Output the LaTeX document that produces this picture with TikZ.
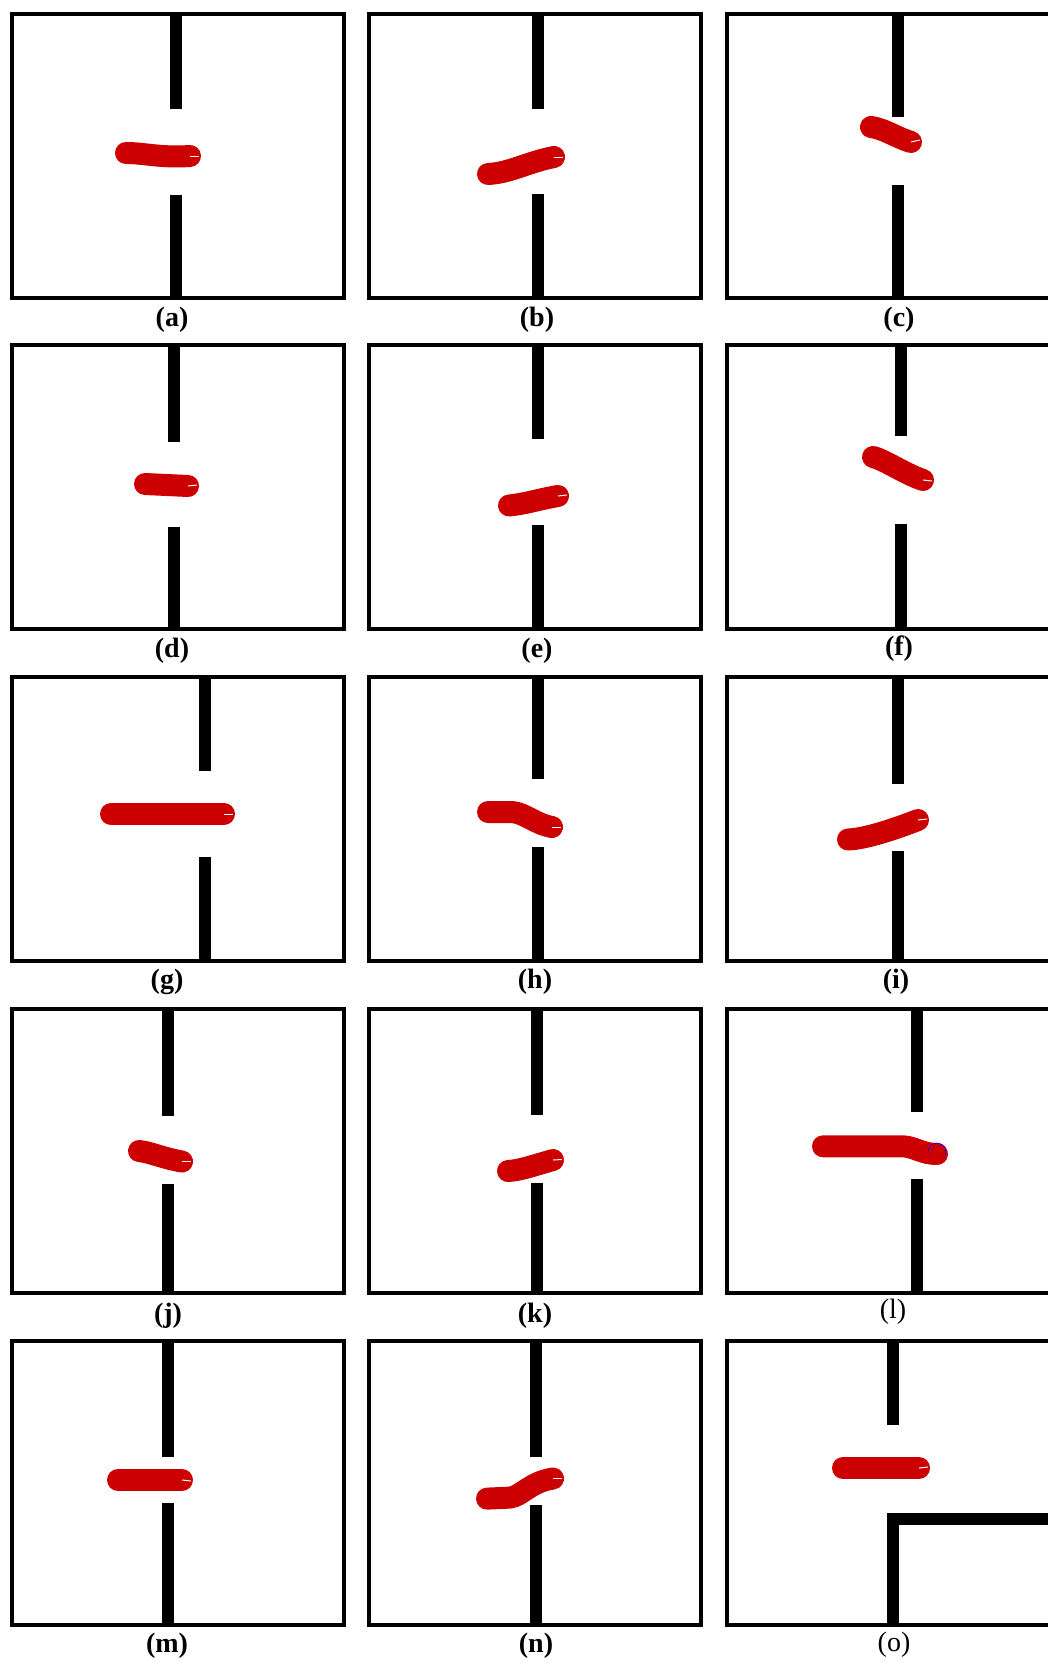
\documentclass[tikz,border=0pt]{standalone}
\usepackage{fontspec}
\setmainfont{Liberation Serif}
\definecolor{robotred}{RGB}{204,0,0}
\tikzset{
  frame/.style={draw=black, line width=4pt},
  wall/.style={draw=black, line width=12pt},
  robot/.style={draw=robotred, line width=22pt, line cap=round, line join=round},
  heading/.style={draw=white, line width=1pt},
  sublabel/.style={font=\fontsize{28}{30}\selectfont\bfseries},
  sublabelthin/.style={font=\fontsize{28}{30}\selectfont},
}
\begin{document}
\begin{tikzpicture}[x=1pt,y=-1pt]
\useasboundingbox (0,0) rectangle (1048,1662);
\clip (0,0) rectangle (1048,1662);
% frames
\foreach \y in {13.7,345,677,1009,1341} {
  \draw[frame] (11.5,\y) rectangle (343.5,\y+284);
  \draw[frame] (369.3,\y) rectangle (701.3,\y+284);
  \draw[frame] (727,\y) rectangle (1070,\y+284);
}
% row 1
\draw[wall] (176,13.7) -- (176,108.7);
\draw[wall] (176,195) -- (176,297.7);
\draw[robot] (126,153) .. controls (145,153) and (160,158) .. (190,156);
\draw[heading] (190,156) -- ++(9,0);
\node[sublabel] (cap-a) at (172,319.5) {(a)};

\draw[wall] (538,13.7) -- (538,108.6);
\draw[wall] (538,194.4) -- (538,297.7);
\draw[robot] (488,174) .. controls (510,173) and (528,162) .. (554,157);
\draw[heading] (554,157) -- ++(9,0);
\node[sublabel] (cap-b) at (537,319.5) {(b)};

\draw[wall] (898,13.7) -- (898,117.3);
\draw[wall] (898,185.3) -- (898,297.7);
\draw[robot] (871,127) .. controls (885,129) and (895,137) .. (911,142);
\draw[heading] (911,142) -- ++(9,-2);
\node[sublabel] (cap-c) at (899,319.5) {(c)};

% row 2
\draw[wall] (174,345) -- (174,441.7);
\draw[wall] (174,527.3) -- (174,629);
\draw[robot] (145,484) -- (188,486);
\draw[heading] (188,486) -- ++(9,-1);
\node[sublabel] (cap-d) at (172,651) {(d)};

\draw[wall] (538,345) -- (538,439);
\draw[wall] (538,524.8) -- (538,629);
\draw[robot] (509,505.5) .. controls (525,504) and (540,499) .. (558,496);
\draw[heading] (558,496) -- ++(9,-1);
\node[sublabel] (cap-e) at (537,651) {(e)};

\draw[wall] (901,345) -- (901,436);
\draw[wall] (901,524) -- (901,629);
\draw[robot] (873,457) .. controls (885,460) and (905,474) .. (923,480);
\draw[heading] (923,480) -- ++(9,1);
\node[sublabel] (cap-f) at (899,649) {(f)};

% row 3
\draw[wall] (205,677) -- (205,771);
\draw[wall] (205,856.7) -- (205,961);
\draw[robot] (111,814) -- (224,814);
\draw[heading] (224,814) -- ++(9,0);
\node[sublabel] (cap-g) at (167,982) {(g)};

\draw[wall] (538,677) -- (538,778.6);
\draw[wall] (538,846.9) -- (538,961);
\draw[robot] (488,812) -- (512,812) .. controls (525,813) and (535,824) .. (552,827);
\draw[heading] (552,827) -- ++(9,0);
\node[sublabel] (cap-h) at (535,982) {(h)};

\draw[wall] (898,677) -- (898,783.7);
\draw[wall] (898,851) -- (898,961);
\draw[robot] (848,839.5) .. controls (865,839) and (895,829) .. (918,820);
\draw[heading] (918,820) -- ++(9,-1);
\node[sublabel] (cap-i) at (896,982) {(i)};

% row 4
\draw[wall] (168,1009) -- (168,1116.4);
\draw[wall] (168,1184.2) -- (168,1293);
\draw[robot] (139,1151) .. controls (150,1152) and (162,1158) .. (182,1161.5);
\draw[heading] (182,1161.5) -- ++(9,0);
\node[sublabel] (cap-j) at (168,1316) {(j)};

\draw[wall] (537,1009) -- (537,1115.4);
\draw[wall] (537,1183) -- (537,1293);
\draw[robot] (508,1171) .. controls (520,1170.5) and (535,1165) .. (553,1160);
\draw[heading] (553,1160) -- ++(9,-0.5);
\node[sublabel] (cap-k) at (535,1316) {(k)};

\draw[wall] (917,1009) -- (917,1111.7);
\draw[wall] (917,1179.3) -- (917,1293);
\draw[robot] (823,1146.3) -- (903,1146.3) .. controls (915,1147) and (922,1154) .. (937,1154);
\draw[blue, line width=0.6pt] (928.1,1153.6) arc[start angle=170, end angle=380, radius=9];
\node[sublabelthin] (cap-l) at (893,1312) {(l)};

% row 5
\draw[wall] (168,1341) -- (168,1457.2);
\draw[wall] (168,1502.6) -- (168,1625);
\draw[robot] (118,1480) -- (182,1480);
\draw[heading] (182,1480) -- ++(9,1);
\node[sublabel] (cap-m) at (167,1646) {(m)};

\draw[wall] (535.7,1341) -- (535.7,1457.2);
\draw[wall] (535.7,1505) -- (535.7,1625);
\draw[robot] (487,1498.6) -- (510,1497.6) .. controls (522,1496) and (530,1482) .. (553,1478.5);
\draw[heading] (553,1478.5) -- ++(9,0);
\node[sublabel] (cap-n) at (536,1646) {(n)};

\draw[wall] (893.3,1341) -- (893.3,1425);
\draw[wall, line join=miter] (893.3,1625) -- (893.3,1518.7) -- (1070,1518.7);
\draw[robot] (843,1468) -- (919,1468);
\draw[heading] (919,1468) -- ++(9,-1);
\node[sublabelthin] (cap-o) at (894,1645) {(o)};
\end{tikzpicture}
\end{document}
